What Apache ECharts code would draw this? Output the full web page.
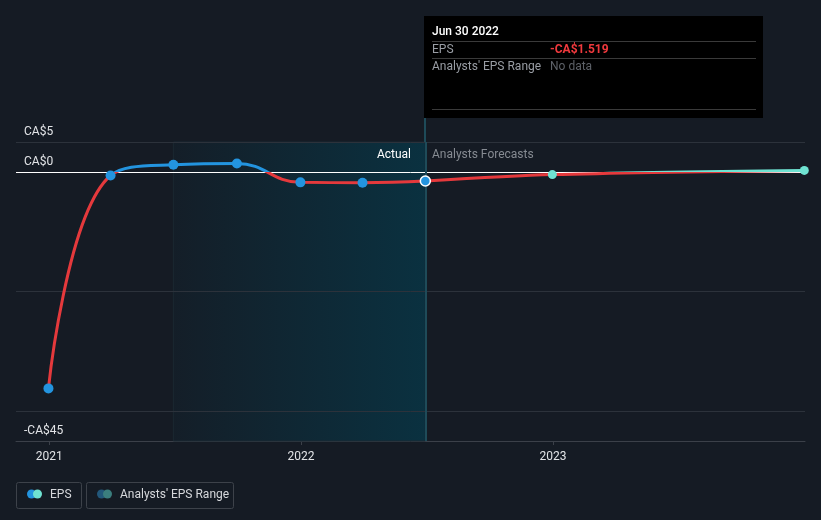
<!DOCTYPE html>
<html>
<head>
<meta charset="utf-8">
<script src="https://cdn.jsdelivr.net/npm/echarts@6/dist/echarts.min.js"></script>
<style>
html,body{margin:0;padding:0;background:#151b24;}
#c{width:821px;height:520px;}
</style>
</head>
<body>
<div id="c"></div>
<script>
// ---- data ----
var actualDates = ['2020-12-31','2021-03-31','2021-06-30','2021-09-30','2021-12-31','2022-03-31','2022-06-30'];
var actualEps = [-36.2, -0.6, 1.2, 1.4, -1.75, -1.8, -1.519];
var forecastDates = ['2022-06-30','2022-12-31','2023-12-31'];
var forecastEps = [-1.519, -0.45, 0.25];
var yearTicks = [2021, 2022, 2023];
var yLabelValues = [5, 0, -45];
var gridValues = [5, -20, -40];
var pastStart = '2021-06-30';
var pastEnd = '2022-06-30';
var tooltipDate = 'Jun 30 2022';
var tooltipEps = '-CA$1.519';

var FONT = 'Roboto, "Noto Sans", sans-serif';
function ts(s){ var p = s.split('-'); return Date.UTC(+p[0], +p[1]-1, +p[2]); }
function pairs(d, v){ return d.map(function(x,i){ return [ts(x), v[i]]; }); }
var yearTs = yearTicks.map(function(y){ return Date.UTC(y,0,1); });

var chart = echarts.init(document.getElementById('c'), null, {renderer:'canvas'});
var option = {
  backgroundColor: '#151b24',
  animation: false,
  textStyle: {fontFamily: FONT},
  grid: {left: 16, right: 16, top: 142, bottom: 79},
  xAxis: {
    type: 'value',
    min: Date.UTC(2020,10,14),
    max: Date.UTC(2024,0,1),
    axisLine: {show: true, onZero: false, lineStyle: {color: '#3b4049', width: 1}},
    axisTick: {show: true, customValues: yearTs, length: 4, lineStyle: {color: '#3b4049'}},
    axisLabel: {customValues: yearTs, color: '#e2e4e7', fontSize: 12, margin: 10, fontFamily: FONT,
      formatter: function(v){ return String(new Date(v).getUTCFullYear()); }},
    splitLine: {show: false}
  },
  yAxis: {
    type: 'value', min: -45, max: 5,
    axisLine: {show: false}, axisTick: {show: false}, splitLine: {show: false},
    axisLabel: {inside: true, customValues: yLabelValues, margin: 8, color: '#e2e4e7', fontSize: 12,
      fontFamily: FONT, verticalAlign: 'bottom', padding: [0,0,4,0],
      formatter: function(v){ return v < 0 ? '-CA$' + Math.abs(v) : 'CA$' + v; }}
  },
  visualMap: [
    {show: false, type: 'piecewise', seriesIndex: 0, dimension: 1,
      pieces: [{gte: -100, lt: 0, color: '#e5393c'}, {gte: 0, lte: 100, color: '#2394df'}]},
    {show: false, type: 'piecewise', seriesIndex: 1, dimension: 1,
      pieces: [{gte: -100, lt: 0, color: '#e5393c'}, {gte: 0, lte: 100, color: '#6fe3d2'}]}
  ],
  series: [
    {type: 'line', data: pairs(actualDates, actualEps), smooth: 0.45, showSymbol: false,
      lineStyle: {width: 3}, z: 5, silent: true},
    {type: 'line', data: pairs(forecastDates, forecastEps), smooth: 0.3, showSymbol: false,
      lineStyle: {width: 3}, z: 5, silent: true},
    {type: 'scatter', data: pairs(actualDates, actualEps), symbolSize: 10, z: 6, silent: true,
      itemStyle: {color: '#2394df', opacity: 1},
      markArea: {silent: true, z: 1,
        itemStyle: {color: {type: 'linear', x: 0, y: 0, x2: 1, y2: 0,
          colorStops: [{offset: 0, color: '#141e28'}, {offset: 1, color: '#0a3140'}]},
          borderColor: '#1b2832', borderWidth: 1},
        data: [[{xAxis: ts(pastStart), yAxis: 5}, {xAxis: ts(pastEnd), yAxis: -45}]]},
      markLine: {silent: true, symbol: 'none', z: 2, label: {show: false},
        data: gridValues.map(function(v){ return {yAxis: v, lineStyle: {color: '#2c323b', width: 1, type: 'solid'}}; })
          .concat([{yAxis: 0, lineStyle: {color: '#ffffff', width: 1, type: 'solid'}},
                   {xAxis: ts(pastEnd), lineStyle: {color: '#1e4b59', width: 2, type: 'solid'}}])}
    },
    {type: 'scatter', data: pairs(forecastDates.slice(1), forecastEps.slice(1)), symbolSize: 9, z: 6, silent: true,
      itemStyle: {color: '#6fe3d2', opacity: 1}},
    {type: 'scatter', data: [[ts(pastEnd), actualEps[actualEps.length-1]]], symbolSize: 10, z: 7, silent: true,
      itemStyle: {color: '#2394df', borderColor: '#ffffff', borderWidth: 1.5, opacity: 1}}
  ]
};
chart.setOption(option);

var cx = Math.round(chart.convertToPixel({xAxisIndex: 0}, ts(pastEnd)));
var gTop = 142;
var tipW = 339, tipTop = 16, tipH = 102;
var graphics = [
  {type: 'line', shape: {x1: cx, y1: tipTop + tipH, x2: cx, y2: gTop}, style: {stroke: '#1e4b59', lineWidth: 2}, z: 3},
  {type: 'rect', shape: {x: cx - 1, y: tipTop, width: tipW, height: tipH}, style: {fill: '#000000'}, z: 20},
  {type: 'text', x: cx + 7, y: 32, style: {text: tooltipDate, fill: '#ffffff', font: '500 12px ' + FONT, verticalAlign: 'middle'}, z: 21},
  {type: 'line', shape: {x1: cx + 7, y1: 41.5, x2: cx + 331, y2: 41.5}, style: {stroke: '#3a3a3a', lineWidth: 1}, z: 21},
  {type: 'text', x: cx + 7, y: 50, style: {text: 'EPS', fill: '#9a9ea5', font: '12px ' + FONT, verticalAlign: 'middle'}, z: 21},
  {type: 'text', x: cx + 125, y: 50, style: {text: tooltipEps, fill: '#f0393d', font: 'bold 12px ' + FONT, verticalAlign: 'middle'}, z: 21},
  {type: 'line', shape: {x1: cx + 7, y1: 58.5, x2: cx + 331, y2: 58.5}, style: {stroke: '#3a3a3a', lineWidth: 1}, z: 21},
  {type: 'text', x: cx + 7, y: 67, style: {text: "Analysts' EPS Range", fill: '#9a9ea5', font: '12px ' + FONT, verticalAlign: 'middle'}, z: 21},
  {type: 'text', x: cx + 125, y: 67, style: {text: 'No data', fill: '#5d6168', font: '12px ' + FONT, verticalAlign: 'middle'}, z: 21},
  {type: 'line', shape: {x1: cx + 7, y1: 109.5, x2: cx + 331, y2: 109.5}, style: {stroke: '#3a3a3a', lineWidth: 1}, z: 21},
  {type: 'text', x: cx - 14, y: 155, style: {text: 'Actual', fill: '#ffffff', font: '12px ' + FONT, align: 'right', verticalAlign: 'middle'}, z: 10},
  {type: 'text', x: cx + 7, y: 155, style: {text: 'Analysts Forecasts', fill: '#868b92', font: '12px ' + FONT, verticalAlign: 'middle'}, z: 10},
  // legend
  {type: 'rect', shape: {x: 16.5, y: 482.5, width: 65, height: 26, r: 2}, style: {fill: 'none', stroke: '#3d424a', lineWidth: 1}, z: 10},
  {type: 'circle', shape: {cx: 31.5, cy: 494, r: 4.5}, style: {fill: '#2394df'}, z: 11},
  {type: 'circle', shape: {cx: 37.5, cy: 494, r: 4.5}, style: {fill: '#6fe3d2'}, z: 11},
  {type: 'text', x: 50, y: 495, style: {text: 'EPS', fill: '#d6d8dc', font: '12px ' + FONT, verticalAlign: 'middle'}, z: 11},
  {type: 'rect', shape: {x: 86.5, y: 482.5, width: 147, height: 26, r: 2}, style: {fill: 'none', stroke: '#3d424a', lineWidth: 1}, z: 10},
  {type: 'circle', shape: {cx: 101.5, cy: 494, r: 4.5}, style: {fill: '#22577a'}, z: 11},
  {type: 'circle', shape: {cx: 107.5, cy: 494, r: 4.5}, style: {fill: '#3b7e7e'}, z: 11},
  {type: 'text', x: 120, y: 495, style: {text: "Analysts' EPS Range", fill: '#d6d8dc', font: '12px ' + FONT, verticalAlign: 'middle'}, z: 11}
];
chart.setOption({graphic: graphics});
</script>
</body>
</html>
